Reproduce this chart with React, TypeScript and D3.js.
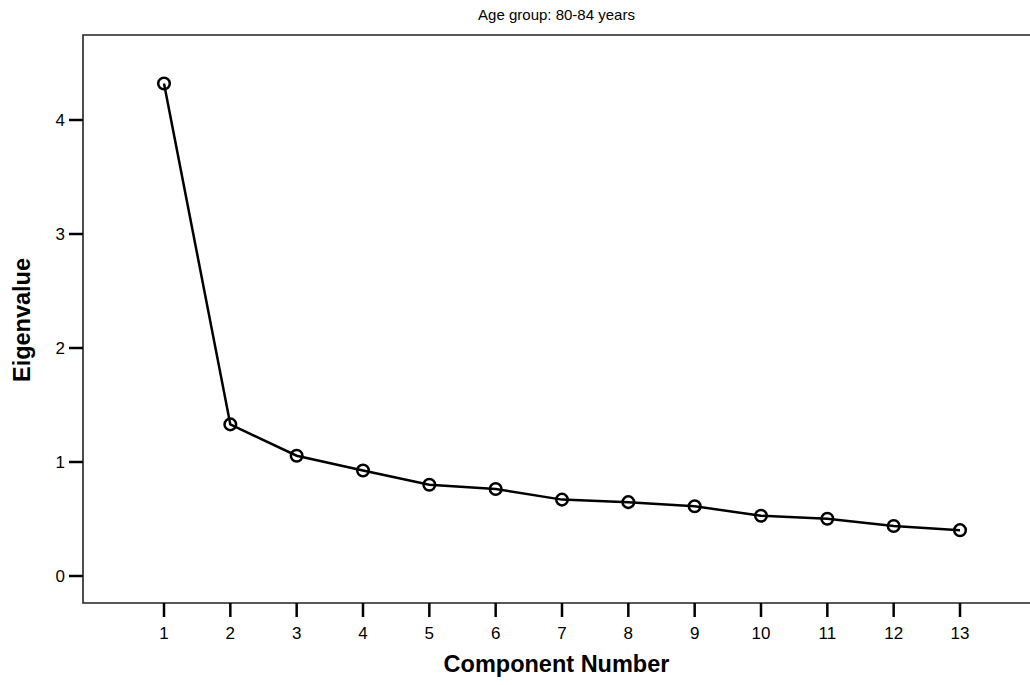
import { useEffect, useRef } from 'react';
import * as d3 from 'd3';

const components = [1, 2, 3, 4, 5, 6, 7, 8, 9, 10, 11, 12, 13];
const eigenvalues = [4.32, 1.33, 1.055, 0.925, 0.8, 0.763, 0.67, 0.648, 0.612, 0.528, 0.502, 0.438, 0.402];
const yTicks = [0, 1, 2, 3, 4];

export default function App() {
    const ref = useRef<SVGSVGElement>(null);

    useEffect(() => {
        const left = 83, top = 35, right = 1030, bottom = 603;
        const font = '"Liberation Sans", Arial, sans-serif';

        const svg = d3.select(ref.current);
        svg.selectAll('*').remove();

        const x = d3.scaleLinear().domain([1, 13]).range([164, 960]);
        const y = d3.scaleLinear().domain([0, 4]).range([576, 120]);

        // frame: top + left + bottom, no right edge
        svg.append('path')
            .attr('d', `M${right},${top}H${left}V${bottom}H${right}`)
            .attr('fill', 'none')
            .attr('stroke', '#222')
            .attr('stroke-width', 1.6);

        const yg = svg.append('g');
        yTicks.forEach(t => {
            yg.append('line')
                .attr('x1', 69).attr('x2', left)
                .attr('y1', y(t)).attr('y2', y(t))
                .attr('stroke', '#000').attr('stroke-width', 2.5);
            yg.append('text')
                .attr('x', 65).attr('y', y(t))
                .attr('dy', '0.35em')
                .attr('text-anchor', 'end')
                .attr('font-family', font)
                .attr('font-size', 17)
                .text(t);
        });

        const xg = svg.append('g');
        components.forEach(c => {
            xg.append('line')
                .attr('x1', x(c)).attr('x2', x(c))
                .attr('y1', bottom).attr('y2', 617)
                .attr('stroke', '#000').attr('stroke-width', 2.5);
            xg.append('text')
                .attr('x', x(c)).attr('y', 633)
                .attr('dy', '0.35em')
                .attr('text-anchor', 'middle')
                .attr('font-family', font)
                .attr('font-size', 17)
                .text(c);
        });

        const line = d3.line<number>()
            .x((d, i) => x(components[i]))
            .y(d => y(d));

        svg.append('path')
            .datum(eigenvalues)
            .attr('d', line)
            .attr('fill', 'none')
            .attr('stroke', '#000')
            .attr('stroke-width', 2.5);

        svg.append('g')
            .selectAll('circle')
            .data(eigenvalues)
            .join('circle')
            .attr('cx', (d, i) => x(components[i]))
            .attr('cy', d => y(d))
            .attr('r', 5.8)
            .attr('fill', 'none')
            .attr('stroke', '#000')
            .attr('stroke-width', 2.5);

        svg.append('text')
            .attr('x', (left + right) / 2).attr('y', 15)
            .attr('dy', '0.35em')
            .attr('text-anchor', 'middle')
            .attr('font-family', font)
            .attr('font-size', 15)
            .text('Age group: 80-84 years');

        svg.append('text')
            .attr('x', (left + right) / 2).attr('y', 664)
            .attr('dy', '0.35em')
            .attr('text-anchor', 'middle')
            .attr('font-family', font)
            .attr('font-size', 23.5)
            .attr('font-weight', 'bold')
            .text('Component Number');

        svg.append('text')
            .attr('transform', `translate(22,320) rotate(-90)`)
            .attr('dy', '0.35em')
            .attr('text-anchor', 'middle')
            .attr('font-family', font)
            .attr('font-size', 23.5)
            .attr('font-weight', 'bold')
            .text('Eigenvalue');
    });

    return (
        <svg ref={ref} width={1030} height={685}
            style={{ position: 'absolute', left: 0, top: 0, background: '#fff' }} />
    );
}
